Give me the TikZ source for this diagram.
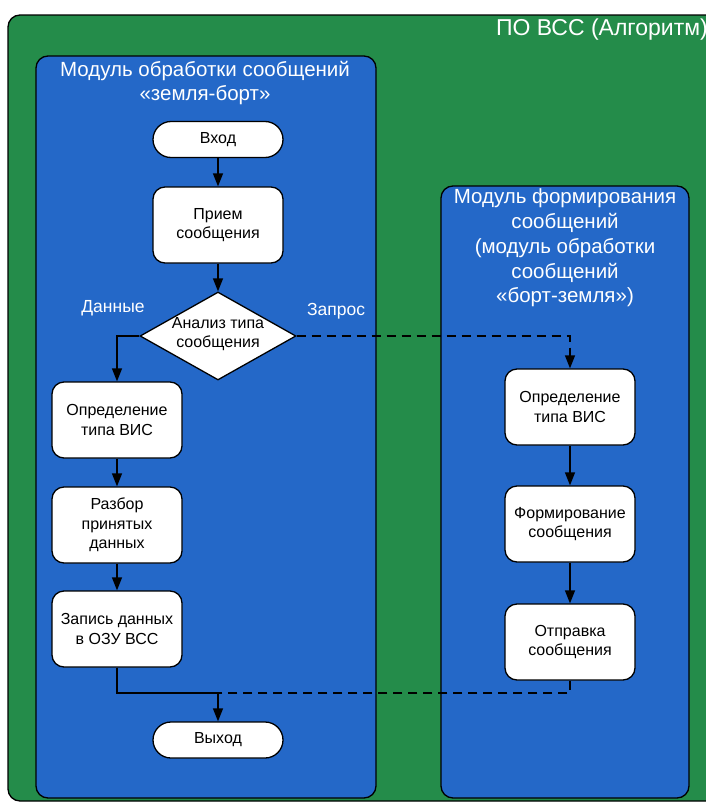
\documentclass[tikz,border=0pt]{standalone}
\usepackage{fontspec}
\setmainfont{Liberation Sans}
\usetikzlibrary{arrows.meta,shapes.geometric}
\definecolor{bggreen}{RGB}{36,140,74}
\definecolor{modblue}{RGB}{36,104,200}
\tikzset{
  frame/.style={draw=black, line width=1.3pt, rounded corners=12pt},
  procbox/.style={draw=black, fill=white, line width=1.3pt, rounded corners=12pt,
    minimum width=130pt, minimum height=76pt, inner sep=0pt, align=center,
    font=\fontsize{16}{19.5}\selectfont},
  termbox/.style={draw=black, fill=white, line width=1.3pt, rounded corners=18pt,
    minimum width=130pt, minimum height=36pt, inner sep=0pt, align=center,
    font=\fontsize{16}{19.5}\selectfont},
  decision/.style={diamond, draw=black, fill=white, line width=1.3pt,
    minimum width=156pt, minimum height=88pt, inner sep=0pt},
  plaintext/.style={align=center, inner sep=0pt, font=\fontsize{16}{19.5}\selectfont},
  titletext/.style={align=center, inner sep=0pt, text=white, font=\fontsize{20.5}{24.7}\selectfont},
  headtext/.style={inner sep=0pt, text=white, font=\fontsize{23}{27}\selectfont},
  branchtext/.style={inner sep=0pt, text=white, font=\fontsize{17.5}{20}\selectfont},
  flow/.style={line width=1.3pt, -{Triangle[length=13pt,width=10pt]}},
  link/.style={line width=1.3pt},
  dashlink/.style={line width=1.3pt, dash pattern=on 9pt off 6pt},
}
\begin{document}
\begin{tikzpicture}[x=1pt,y=-1pt]
\useasboundingbox (0,0) rectangle (705,803);

% outer frame and the two modules
\draw[frame, fill=bggreen] (8,15) rectangle (730,801);
\node[headtext, anchor=east] (algo) at (708,30) {ПО ВСС (Алгоритм)};

\draw[frame, fill=modblue] (36,56) rectangle (376,798);
\node[titletext] (leftttl) at (205,83) {Модуль обработки сообщений\\«земля-борт»};

\draw[frame, fill=modblue] (441,186) rectangle (689,798);
\node[titletext] (rightttl) at (565,248) {Модуль формирования\\сообщений\\(модуль обработки\\сообщений\\«борт-земля»)};

% receiving module
\node[termbox] (vx) at (218,139.5) {Вход};
\node[procbox] (pr) at (218,225) {Прием\\сообщения};
\node[decision] (dec) at (218,336) {};
\node[plaintext] (dect) at (218,334) {Анализ типа\\сообщения};
\node[procbox] (d1) at (117,420) {Определение\\типа ВИС};
\node[procbox] (d2) at (117,525) {Разбор\\принятых\\данных};
\node[procbox] (d3) at (117,629) {Запись данных\\в ОЗУ ВСС};
\node[termbox] (out) at (218,740) {Выход};

\node[branchtext] (lbld) at (113,308) {Данные};
\node[branchtext] (lblq) at (336,311) {Запрос};

% forming module
\node[procbox] (z1) at (570,407) {Определение\\типа ВИС};
\node[procbox] (z2) at (570,524) {Формирование\\сообщения};
\node[procbox] (z3) at (570,642) {Отправка\\сообщения};

\coordinate (join) at (218,693);

% connectors
\draw[flow] (vx) -- (pr);
\draw[flow] (pr) -- (dec.north);
\draw[flow] (dec.west) -| (d1.north);
\draw[flow, dash pattern=on 9pt off 6pt] (dec.east) -| (z1.north);
\draw[flow] (d1) -- (d2);
\draw[flow] (d2) -- (d3);
\draw[flow] (z1) -- (z2);
\draw[flow] (z2) -- (z3);
\draw[link] (d3.south) |- (join);
\draw[dashlink] (z3.south) |- (join);
\draw[flow] (join) -- (out.north);
\end{tikzpicture}
\end{document}
